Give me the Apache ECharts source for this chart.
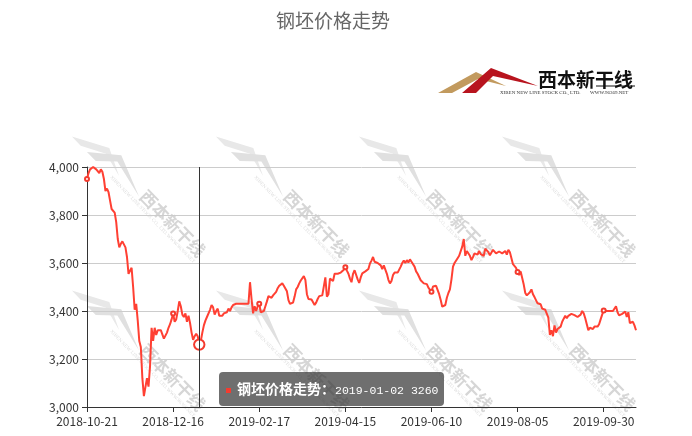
<!DOCTYPE html>
<html>
<head>
<meta charset="utf-8">
<style>
html,body{margin:0;padding:0;background:#fff;}
#chart{width:692px;height:436px;}
</style>
<script src="https://cdn.jsdelivr.net/npm/echarts@6/dist/echarts.min.js"></script>
</head>
<body>
<div id="chart"></div>
<script>
// ---- data ----
const chartTitle = '钢坯价格走势';
const seriesName = '钢坯价格走势';
const startDate = '2018-10-21';
const dayCount = 358;
const skippedDays = ['2019-02-04','2019-02-05','2019-02-06','2019-02-07','2019-02-08','2019-02-09','2019-02-10','2019-04-05'];
const yTicks = [3000, 3200, 3400, 3600, 3800, 4000];

const pricesA = [3950,3975,3990,3995,4000,4000,3990,3985,3975,3990,3980,
  3950,3900,3910,3895,3860,3825,3818,3810,3770,3700,
  3665,3680,3690,3688,3665,3625,3555,3550,3580,3500,
  3405,3430,3360,3275,3250,3120,3045,3050,3120,3085,
  3170,3330,3275,3330,3300,3320,3315,3320,3320,3285,
  3285,3310,3330,3345,3365,3390,3355,3365,3400];
const pricesB = [3440,
  3420,3385,3375,3390,3355,3380,3350,3310,3280,3295,
  3305,3295,3260,3275,3310,3340,3360,3375,3370,3405,
  3425,3415,3385,3400,3410,3380,3380,3380,3390,3395,
  3395,3410,3400,3415,3425,3430,3430,3430,3430,3430,
  3430,3430,3430,3430,3430,3520,3450,3390,3420,3400,
  3420,3430,3395,3400,3400,3420,3440,3462,3465];
const pricesC = [3455,
  3465,3470,3480,3495,3505,3508,3515,3505,3500,3482,
  3445,3430,3430,3435,3460,3490,3500,3515,3527,3535,
  3545,3530,3470,3450,3448,3448,3440,3425,3435,3450,
  3462,3470,3465,3465,3540,3460,3470,3535,3535,3525,
  3555,3555,3555,3555,3560,3568,3572,3582,3568,3555,
  3535,3520,3555,3570,3562,3532,3517,3540,3557];
const pricesD = [3562,
  3565,3565,3575,3598,3610,3625,3605,3600,3600,3595,
  3590,3575,3590,3585,3555,3530,3515,3525,3550,3560,
  3560,3560,3568,3585,3600,3610,3600,3612,3602,3615,
  3605,3598,3585,3565,3555,3550,3528,3535,3515,3508,
  3512,3497,3495,3480,3502,3505,3505,3512,3470,3446,
  3418,3410,3425,3455,3475,3490,3532,3585,3600];
const pricesE = [3605,
  3620,3630,3635,3668,3700,3630,3650,3658,3630,3612,
  3625,3640,3648,3635,3650,3637,3645,3630,3660,3657,
  3645,3632,3640,3655,3660,3640,3635,3648,3655,3640,
  3635,3650,3635,3655,3645,3620,3595,3592,3580,3562,
  3550,3565,3570,3510,3475,3465,3470,3478,3490,3470,
  3458,3450,3432,3438,3428,3410,3415,3405,3410];
const pricesF = [3372,
  3300,3320,3295,3340,3310,3325,3320,3335,3355,3368,
  3380,3370,3380,3383,3388,3385,3383,3378,3375,3382,
  3385,3400,3390,3370,3345,3320,3330,3330,3325,3335,
  3330,3335,3345,3365,3385,3402,3400,3400,3400,3400,
  3400,3400,3405,3420,3395,3382,3378,3388,3392,3398,
  3375,3395,3350,3358,3355,3340,3320];
const tooltipIndex = 73;

// ---- build ----
function buildDates(start, count, skip) {
  const out = [];
  const d = new Date(start + 'T00:00:00Z');
  while (out.length < count) {
    const s = d.toISOString().slice(0, 10);
    if (skip.indexOf(s) < 0) out.push(s);
    d.setUTCDate(d.getUTCDate() + 1);
  }
  return out;
}
const categories = buildDates(startDate, dayCount, skippedDays);
const prices = [].concat(pricesA, pricesB, pricesC, pricesD, pricesE, pricesF);

const lineColor = '#f43b2f';
const font = "'Noto Sans CJK SC', 'Noto Sans', sans-serif";

// logo shapes (local coords relative to text start)
function logoParts(scale, gold, red, textFill, smallFill, withSmall) {
  const s = scale;
  const P = pts => pts.map(p => [p[0] * s, p[1] * s]);
  const parts = [
    { type: 'polygon', shape: { points: P([[-100,13],[-62,-8],[-32,6],[-60,-1],[-86,13]]) }, style: { fill: gold } },
    { type: 'polygon', shape: { points: P([[-76,13],[-47,-12],[0,6],[-45,-4],[-62,13]]) }, style: { fill: red } },
    { type: 'text', x: 0, y: 0, style: { text: '西本新干线', fill: textFill, font: 'bold ' + Math.round(19 * s) + "px 'Noto Sans CJK SC'", verticalAlign: 'middle', align: 'left' } }
  ];
  if (withSmall) {
    parts.push({ type: 'text', x: -38 * s, y: 13 * s, style: { text: 'XIBEN NEW LINE STOCK CO., LTD.', fill: smallFill, font: Math.max(4, Math.round(5 * s)) + 'px serif', verticalAlign: 'middle' } });
    parts.push({ type: 'text', x: 52 * s, y: 13 * s, style: { text: 'WWW.96369.NET', fill: smallFill, font: Math.max(4, Math.round(5 * s)) + 'px serif', verticalAlign: 'middle' } });
  }
  return parts;
}

const graphics = [];
const wmX = [143, 287, 430, 573];
const wmY = [193, 347];
wmY.forEach(y => wmX.forEach(x => {
  graphics.push({
    type: 'group', x: x, y: y, rotation: -0.80, z: -10, silent: true,
    children: logoParts(0.9, '#e8e8e8', '#e0e0e0', '#d6d6d6', '#dddddd', true).map(c => Object.assign(c, { z: -10 }))
  });
}));
// top-right logo
graphics.push({
  type: 'group', x: 538, y: 80, silent: true,
  children: logoParts(1, '#c29a5e', '#b8141e', '#111', '#333', true).concat([
    { type: 'line', shape: { x1: 58, y1: 6, x2: 97, y2: 6 }, style: { stroke: '#111', lineWidth: 1 } }
  ])
});

const chart = echarts.init(document.getElementById('chart'), null, { renderer: 'canvas' });
chart.setOption({
  animation: false,
  textStyle: { fontFamily: font },
  title: {
    text: chartTitle, left: 276, top: 11, padding: 0,
    textStyle: { fontSize: 19, fontWeight: 'normal', color: '#666', fontFamily: font }
  },
  graphic: graphics,
  grid: { left: 87, right: 56, top: 167, bottom: 29, containLabel: false },
  tooltip: {
    trigger: 'axis',
    alwaysShowContent: true,
    transitionDuration: 0,
    showDelay: 0,
    backgroundColor: 'rgba(50,50,50,0.7)',
    borderWidth: 0,
    padding: [6, 5, 5, 7],
    textStyle: { color: '#fff' },
    extraCssText: 'border-radius:4px;box-shadow:none;line-height:20px;',
    axisPointer: { type: 'line', lineStyle: { color: '#333', width: 1, type: 'solid' } },
    position: function () { return [219, 372]; },
    formatter: function (params) {
      const p = params[0];
      return '<span style="display:inline-block;width:5px;height:5px;background:' + lineColor + ';margin-right:6px;vertical-align:middle;"></span>' +
        '<span style="font-weight:bold;font-size:14px;font-family:\'Noto Sans CJK SC\'">' + p.seriesName + '：</span>' +
        '<span style="font-family:\'Liberation Mono\',monospace;font-size:11.5px;">' + p.name + ' ' + p.value + '</span>';
    }
  },
  xAxis: {
    type: 'category',
    data: categories,
    boundaryGap: false,
    axisLine: { lineStyle: { color: '#333' } },
    axisTick: { show: true, interval: 55, length: 5, lineStyle: { color: '#333' } },
    axisLabel: { interval: 55, color: '#333', fontSize: 12, margin: 8 },
    splitLine: { show: false }
  },
  yAxis: {
    type: 'value',
    min: yTicks[0], max: yTicks[yTicks.length - 1], interval: yTicks[1] - yTicks[0],
    axisLine: { show: true, lineStyle: { color: '#333' } },
    axisTick: { show: true, length: 5, lineStyle: { color: '#333' } },
    axisLabel: { color: '#333', fontSize: 12, margin: 8 },
    splitLine: { show: true, lineStyle: { color: '#ccc' } }
  },
  series: [{
    name: seriesName,
    type: 'line',
    data: prices,
    symbol: 'emptyCircle',
    symbolSize: 4,
    showSymbol: true,
    showAllSymbol: 'auto',
    itemStyle: { color: lineColor },
    lineStyle: { color: lineColor, width: 2 },
    emphasis: { scale: 2.6 },
    z: 3
  }]
});
chart.dispatchAction({ type: 'showTip', seriesIndex: 0, dataIndex: tooltipIndex });
</script>
</body>
</html>
